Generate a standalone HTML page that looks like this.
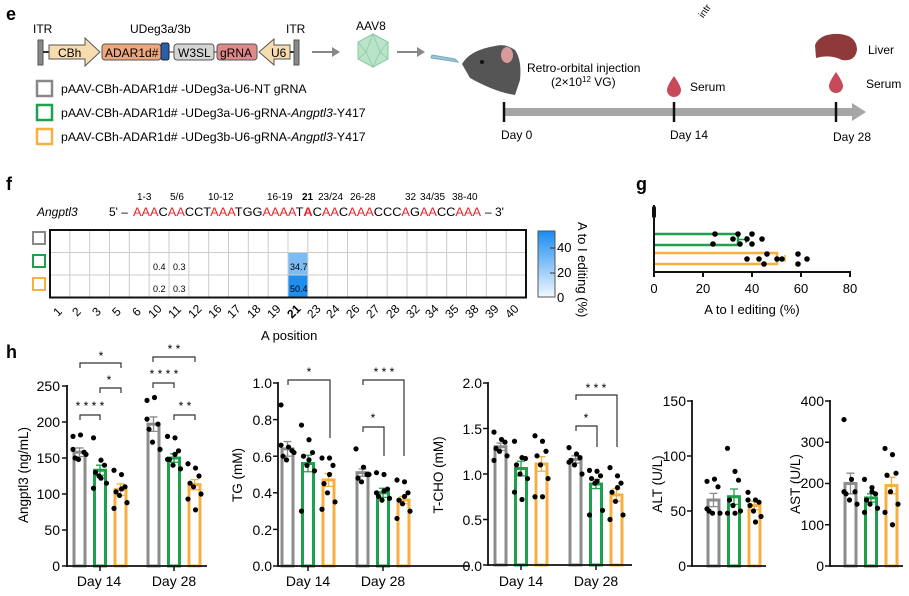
<!DOCTYPE html>
<html><head><meta charset="utf-8"><style>
html,body{margin:0;padding:0;background:#fff}
svg{display:block;font-family:"Liberation Sans",Arial,sans-serif}
</style></head><body>
<svg id="s" width="909" height="596" viewBox="0 0 909 596" xmlns="http://www.w3.org/2000/svg">
<!-- panel e -->
<text x="6" y="20" font-size="18" font-weight="bold">e</text>
<text x="33" y="33" font-size="12">ITR</text>
<text x="130" y="33" font-size="12">UDeg3a/3b</text>
<text x="286" y="33" font-size="12">ITR</text>
<rect x="38" y="40" width="5" height="25" fill="#888" stroke="#555"/>
<line x1="43" y1="52" x2="50" y2="52" stroke="#333" stroke-width="2"/>
<path d="M49,45 H85 V38 L100,52 L85,66 V59 H49 Z" fill="#f7dcb0" stroke="#555"/>
<text x="58" y="57" font-size="12">CBh</text>
<rect x="102" y="44" width="59" height="16" rx="3" fill="#eea67c" stroke="#555"/>
<text x="105" y="57" font-size="12">ADAR1d#</text>
<rect x="161" y="43" width="8" height="17" rx="2" fill="#2a5ea8" stroke="#223"/>
<line x1="169" y1="52" x2="174" y2="52" stroke="#333"/>
<rect x="174" y="44" width="40" height="16" rx="3" fill="#d5d5d5" stroke="#555"/>
<text x="178" y="57" font-size="12">W3SL</text>
<line x1="214" y1="52" x2="217" y2="52" stroke="#333"/>
<rect x="217" y="44" width="40" height="16" rx="3" fill="#e0898a" stroke="#555"/>
<text x="220" y="57" font-size="12">gRNA</text>
<path d="M290,45 H274 V39 L259,52 L274,65 V59 H290 Z" fill="#f7dcb0" stroke="#555"/>
<text x="271" y="57" font-size="12">U6</text>
<line x1="290" y1="52" x2="295" y2="52" stroke="#333" stroke-width="2"/>
<rect x="294" y="40" width="5" height="25" fill="#888" stroke="#555"/>
<line x1="312" y1="52" x2="333" y2="52" stroke="#888" stroke-width="2"/><path d="M332,47 L340,52 L332,57Z" fill="#888"/>
<text x="356" y="30" font-size="12">AAV8</text>
<polygon points="373,34 388,42 388,59 373,67 358,59 358,42" fill="#b9e4c9" stroke="#8cc7a0"/>
<path d="M373,34 L366,52 L373,67 L380,52Z M358,42 L366,52 L358,59 M388,42 L380,52 L388,59" fill="none" stroke="#8cc7a0" stroke-width="0.7"/>
<line x1="397" y1="52" x2="418" y2="52" stroke="#888" stroke-width="2"/><path d="M417,47 L425,52 L417,57Z" fill="#888"/>
<path d="M432,55 L455,59 L458,62 L431,58Z" fill="#9cc6db" stroke="#7ab"/>
<path d="M462,64 Q470,50 495,46 Q505,43 515,50 Q522,60 520,80 L515,95 Q495,92 470,78 Z" fill="#555"/>
<ellipse cx="507" cy="55" rx="6" ry="8" fill="#d99a9a"/>
<circle cx="482" cy="62" r="2" fill="#111"/>
<rect x="37" y="81" width="15" height="15" fill="none" stroke="#888" stroke-width="2.5"/>
<rect x="37" y="105" width="15" height="15" fill="none" stroke="#1fa04a" stroke-width="2.5"/>
<rect x="37" y="129" width="15" height="15" fill="none" stroke="#f5b041" stroke-width="2.5"/>
<text x="61" y="93" font-size="12.3">pAAV-CBh-ADAR1d# -UDeg3a-U6-NT gRNA</text>
<text x="61" y="117" font-size="12.3">pAAV-CBh-ADAR1d# -UDeg3a-U6-gRNA-<tspan font-style="italic">Angptl3</tspan>-Y417</text>
<text x="61" y="141" font-size="12.3">pAAV-CBh-ADAR1d# -UDeg3b-U6-gRNA-<tspan font-style="italic">Angptl3</tspan>-Y417</text>
<text x="700" y="12" font-size="10" transform="rotate(-55 708 12)">intr</text>
<text x="527" y="72" font-size="12">Retro-orbital injection</text>
<text x="551" y="86" font-size="12">(2×10<tspan font-size="8" dy="-4">12</tspan><tspan dy="4"> VG)</tspan></text>
<path d="M674,76 Q667,86 667,90 A7,7 0 0 0 681,90 Q681,86 674,76Z" fill="#c84a5a"/>
<text x="690" y="91" font-size="12">Serum</text>
<path d="M815,45 Q820,33 840,34 Q857,36 857,50 Q855,62 842,60 Q830,54 816,58Z" fill="#8e3a3a"/>
<text x="868" y="54" font-size="12">Liver</text>
<path d="M836,72 Q829,82 829,86 A7,7 0 0 0 843,86 Q843,82 836,72Z" fill="#c84a5a"/>
<text x="866" y="88" font-size="12">Serum</text>
<rect x="504" y="108" width="352" height="8" fill="#a6a6a6"/>
<path d="M852,103 L866,112 L852,121Z" fill="#a6a6a6"/>
<line x1="504" y1="102" x2="504" y2="122" stroke="#111" stroke-width="2.5"/>
<line x1="674" y1="102" x2="674" y2="122" stroke="#111" stroke-width="2.5"/>
<line x1="836" y1="102" x2="836" y2="122" stroke="#111" stroke-width="2.5"/>
<text x="501" y="139" font-size="12">Day 0</text>
<text x="670" y="139" font-size="12">Day 14</text>
<text x="833" y="141" font-size="12">Day 28</text>

<!-- panel f -->
<text x="6" y="190" font-size="18" font-weight="bold">f</text>
<g font-size="10">
<text x="137" y="200">1-3</text><text x="170" y="200">5/6</text><text x="208" y="200">10-12</text>
<text x="267" y="200">16-19</text><text x="302" y="200" font-weight="bold">21</text><text x="318" y="200">23/24</text>
<text x="350" y="200">26-28</text><text x="405" y="200">32</text><text x="420" y="200">34/35</text><text x="452" y="200">38-40</text>
</g>
<text x="37" y="216" font-size="12" font-style="italic">Angptl3</text>
<text x="109" y="216" font-size="12">5' –</text>
<text x="133" y="216" font-size="12" textLength="348" lengthAdjust="spacingAndGlyphs"><tspan fill="#e8232a">AAA</tspan>C<tspan fill="#e8232a">AA</tspan>CCT<tspan fill="#e8232a">AAA</tspan>TGG<tspan fill="#e8232a">AAAA</tspan>T<tspan fill="#e8232a" font-weight="bold">A</tspan>C<tspan fill="#e8232a">AA</tspan>C<tspan fill="#e8232a">AAA</tspan>CCC<tspan fill="#e8232a">A</tspan>G<tspan fill="#e8232a">AA</tspan>CC<tspan fill="#e8232a">AAA</tspan></text>
<text x="485" y="216" font-size="12">– 3'</text>
<defs><linearGradient id="cb" x1="0" y1="1" x2="0" y2="0"><stop offset="0" stop-color="#f2f8ff"/><stop offset="1" stop-color="#1a8cf0"/></linearGradient></defs>
<g id="heat"></g>
<rect x="33" y="232" width="12" height="12" fill="none" stroke="#888" stroke-width="2"/>
<rect x="33" y="255" width="12" height="12" fill="none" stroke="#1fa04a" stroke-width="2"/>
<rect x="33" y="278" width="12" height="12" fill="none" stroke="#f5b041" stroke-width="2"/>
<rect x="538" y="231" width="17" height="66" fill="url(#cb)" stroke="#555"/>
<g font-size="13"><text x="557" y="252">40</text><text x="557" y="277">20</text><text x="557" y="302">0</text></g>
<line x1="550" y1="248" x2="555" y2="248" stroke="#333"/><line x1="550" y1="273" x2="555" y2="273" stroke="#333"/>
<text font-size="13" transform="translate(578,222) rotate(90)">A to I editing (%)</text>
<g font-size="12" id="xt">
<text transform="translate(58,317) rotate(-45)">1</text><text transform="translate(77,317) rotate(-45)">2</text><text transform="translate(97,317) rotate(-45)">3</text><text transform="translate(117,317) rotate(-45)">5</text><text transform="translate(137,317) rotate(-45)">6</text><text transform="translate(153,319) rotate(-45)">10</text><text transform="translate(173,319) rotate(-45)">11</text><text transform="translate(193,319) rotate(-45)">12</text><text transform="translate(213,319) rotate(-45)">16</text><text transform="translate(232,319) rotate(-45)">17</text><text transform="translate(252,319) rotate(-45)">18</text><text transform="translate(272,319) rotate(-45)">19</text><text transform="translate(292,319) rotate(-45)" font-weight="bold">21</text><text transform="translate(312,319) rotate(-45)">23</text><text transform="translate(331,319) rotate(-45)">24</text><text transform="translate(351,319) rotate(-45)">26</text><text transform="translate(371,319) rotate(-45)">27</text><text transform="translate(391,319) rotate(-45)">28</text><text transform="translate(411,319) rotate(-45)">32</text><text transform="translate(430,319) rotate(-45)">34</text><text transform="translate(450,319) rotate(-45)">35</text><text transform="translate(470,319) rotate(-45)">38</text><text transform="translate(490,319) rotate(-45)">39</text><text transform="translate(510,319) rotate(-45)">40</text>
</g>
<text x="261" y="340" font-size="13">A position</text>
<g font-size="9"><text x="153" y="270">0.4</text><text x="173" y="270">0.3</text><text x="153" y="292">0.2</text><text x="173" y="292">0.3</text><text x="290" y="270">34.7</text><text x="290" y="292">50.4</text></g>

<!-- panel g -->
<text x="636" y="190" font-size="18" font-weight="bold">g</text>
<g id="gg"></g>
<g font-size="13" text-anchor="middle"><text x="654" y="293">0</text><text x="703" y="293">20</text><text x="752" y="293">40</text><text x="801" y="293">60</text><text x="850" y="293">80</text></g>
<text x="752" y="314" font-size="13" text-anchor="middle">A to I editing (%)</text>

<!-- panel h -->
<text x="6" y="358" font-size="18" font-weight="bold">h</text>
<g font-size="14" text-anchor="end">
<text x="60" y="391">250</text><text x="60" y="427">200</text><text x="60" y="463">150</text><text x="60" y="499">100</text><text x="60" y="535">50</text><text x="60" y="571">0</text>
<text x="272" y="388">1.0</text><text x="272" y="425">0.8</text><text x="272" y="462">0.6</text><text x="272" y="498">0.4</text><text x="272" y="535">0.2</text><text x="272" y="571">0.0</text>
<text x="482" y="388">2.0</text><text x="482" y="434">1.5</text><text x="482" y="480">1.0</text><text x="482" y="525">0.5</text><text x="482" y="571">0.0</text>
<text x="686" y="406">150</text><text x="686" y="461">100</text><text x="686" y="516">50</text><text x="686" y="571">0</text>
<text x="824" y="406">400</text><text x="824" y="447">300</text><text x="824" y="488">200</text><text x="824" y="530">100</text><text x="824" y="571">0</text>
</g>
<g font-size="13.5" text-anchor="middle">
<text transform="translate(28,475) rotate(-90)">Angptl3 (ng/mL)</text>
<text transform="translate(242,475) rotate(-90)">TG (mM)</text>
<text transform="translate(443,475) rotate(-90)">T-CHO (mM)</text>
<text transform="translate(662,484) rotate(-90)">ALT (U/L)</text>
<text transform="translate(800,484) rotate(-90)">AST (U/L)</text>
</g>
<g font-size="14" text-anchor="middle">
<text x="99" y="586">Day 14</text><text x="174" y="586">Day 28</text>
<text x="308" y="586">Day 14</text><text x="383" y="586">Day 28</text>
<text x="521" y="586">Day 14</text><text x="596" y="586">Day 28</text>
</g>
<g font-size="12" text-anchor="middle">
<text x="101" y="360">*</text><text x="109" y="384">*</text><text x="90" y="410">* * * *</text>
<text x="174" y="353">* *</text><text x="164" y="378">* * * *</text><text x="185" y="410">* *</text>
<text x="309" y="376">*</text><text x="384" y="376">* * *</text><text x="373" y="422">*</text>
<text x="596" y="392">* * *</text><text x="586" y="422">*</text>
</g>
<g id="h"></g>
</svg>
<script>
const NS="http://www.w3.org/2000/svg";
function el(p,t,a){const e=document.createElementNS(NS,t);for(const k in a)e.setAttribute(k,a[k]);p.appendChild(e);return e;}
const H=document.getElementById('h'),heat=document.getElementById('heat'),G=document.getElementById('gg');
const L=50,T=230,W=476,RH=22.5,N=24,CW=W/N;
el(heat,'rect',{x:L+12*CW,y:T+RH,width:CW,height:RH,fill:'#7bbcf5'});
el(heat,'rect',{x:L+12*CW,y:T+2*RH,width:CW,height:RH,fill:'#1e8ef0'});
for(let i=1;i<N;i++)el(heat,'line',{x1:L+i*CW,y1:T,x2:L+i*CW,y2:T+3*RH,stroke:'#ccc','stroke-width':1});
for(let j=1;j<3;j++)el(heat,'line',{x1:L,y1:T+j*RH,x2:L+W,y2:T+j*RH,stroke:'#ccc','stroke-width':1});
el(heat,'rect',{x:L,y:T,width:W,height:3*RH,fill:'none',stroke:'#111','stroke-width':2});
el(G,'line',{x1:654,y1:205,x2:654,y2:273,stroke:'#111','stroke-width':2});
el(G,'line',{x1:654,y1:272,x2:851,y2:272,stroke:'#111','stroke-width':2});
[654,703,752,801,850].forEach(x=>el(G,'line',{x1:x,y1:272,x2:x,y2:277,stroke:'#111','stroke-width':2}));
el(G,'rect',{x:652,y:206,width:4,height:12,rx:2,fill:'#111'});
el(G,'path',{d:'M655,234 H738 V245 H655',fill:'none',stroke:'#1fa04a','stroke-width':2.5});
el(G,'path',{d:'M738,239.5 H746 M746,236 V243',fill:'none',stroke:'#1fa04a','stroke-width':1.5});
el(G,'path',{d:'M655,253 H777 V264 H655',fill:'none',stroke:'#f5b041','stroke-width':2.5});
el(G,'path',{d:'M777,258.5 H785 M785,255 V262',fill:'none',stroke:'#f5b041','stroke-width':1.5});
[[715,234],[738,234],[733,239],[747,239],[752,234],[762,239],[713,244],[740,244],[752,244],[767,254],[747,259],[759,259],[777,259],[782,259],[798,254],[807,259],[798,264],[764,264]].forEach(p=>el(G,'circle',{cx:p[0],cy:p[1],r:2.8,fill:'#000'}));
const C=['#8c8c8c','#1fa04a','#f5b041'];
function chart(ax,top,bot,xend,vmax,ticks,groups,xticks){
 const sc=(bot-top)/vmax,Y=v=>bot-v*sc;
 groups.forEach(g=>{g.bars.forEach((b,i)=>{const cx=g.c+(i-1)*20.5;
  el(H,'rect',{x:cx-5.5,y:Y(b[0]),width:11,height:bot-Y(b[0]),fill:'#fff',stroke:C[i],'stroke-width':3});
  el(H,'path',{d:`M${cx},${Y(b[0])} V${Y(b[0]+b[1])} M${cx-4},${Y(b[0]+b[1])} H${cx+4} M${cx-4},${Y(b[0]-b[1])} H${cx+4} M${cx},${Y(b[0])} V${Y(b[0]-b[1])}`,stroke:C[i],'stroke-width':1.3,fill:'none'});
  b[2].forEach((v,k)=>el(H,'circle',{cx:cx+((k%3)-1)*5.5+(k%2?1:-1),cy:Y(v),r:2.6,fill:'#000'}));});});
 el(H,'line',{x1:ax,y1:top-1,x2:ax,y2:bot+1,stroke:'#111','stroke-width':1.8});
 el(H,'line',{x1:ax,y1:bot,x2:xend,y2:bot,stroke:'#111','stroke-width':1.8});
 ticks.forEach(v=>el(H,'line',{x1:ax-5,y1:Y(v),x2:ax,y2:Y(v),stroke:'#111','stroke-width':1.5}));
 if(xticks)groups.forEach(g=>el(H,'line',{x1:g.c,y1:bot,x2:g.c,y2:bot+5,stroke:'#111','stroke-width':1.5}));
}
chart(67,386,566,207,250,[0,50,100,150,200,250],[
 {c:100,bars:[[158,6,[180,182,158,150,148,155,162]],[133,7,[178,147,140,130,125,115,108,122]],[106,8,[133,127,110,103,98,88,80,107]]]},
 {c:174,bars:[[197,10,[230,234,197,190,172,162,204]],[150,6,[180,178,160,148,140,135,148,155]],[113,7,[142,136,125,115,110,100,93,78]]]}],1);
chart(278,383,566,470,1,[0,.2,.4,.6,.8,1],[
 {c:308,bars:[[.64,.04,[.88,.65,.63,.6,.58,.62,.66]],[.56,.045,[.77,.69,.62,.6,.55,.52,.3,.58]],[.47,.035,[.59,.59,.55,.45,.4,.35,.31,.5]]]},
 {c:383,bars:[[.51,.02,[.64,.54,.5,.48,.46,.5]],[.40,.025,[.51,.5,.42,.38,.36,.37,.4,.41]],[.36,.02,[.47,.46,.4,.36,.34,.3,.26,.38]]]}],1);
chart(488,383,565,632,2,[0,.5,1,1.5,2],[
 {c:521,bars:[[1.3,.04,[1.46,1.38,1.35,1.28,1.25,1.2,1.15]],[1.06,.08,[1.36,1.18,1.17,1.1,1.0,.95,.8,.72]],[1.11,.08,[1.42,1.36,1.25,1.2,1.1,.95,.75,.75]]]},
 {c:596,bars:[[1.16,.04,[1.29,1.22,1.18,1.15,1.1,1.0,1.13]],[.89,.05,[1.04,1.03,.98,.95,.9,.6,.55,.92]],[.77,.07,[1.07,.98,.9,.8,.7,.55,.5,.85]]]}],1);
chart(692,401,566,766,150,[0,50,100,150],[
 {c:734,bars:[[60,6,[77,79,72,50,48,48,52]],[63,7,[107,86,78,60,55,50,48,48]],[55,4,[67,60,58,55,50,45,60,40]]]}],0);
chart(830,401,566,903,400,[0,100,200,300,400],[
 {c:871,bars:[[200,25,[355,210,180,175,160,150,180]],[165,10,[210,190,175,160,150,140,130,180]],[195,20,[285,270,225,220,180,150,130,100]]]}],0);
function br(x1,x2,y,d1,d2){el(H,'path',{d:`M${x1},${y+d1} V${y} H${x2} V${y+d2}`,fill:'none',stroke:'#333','stroke-width':1.2});}
br(80,121,363,5,5);br(100,121,388,5,5);br(80,100,415,5,5);
br(153,195,357,5,5);br(153,174,383,5,5);br(174,195,415,5,5);
br(288,330,380,5,58);br(363,404,380,5,76);br(363,384,427,5,29);
br(576,617,395,5,52);br(576,597,426,5,21);
</script>
</body></html>
